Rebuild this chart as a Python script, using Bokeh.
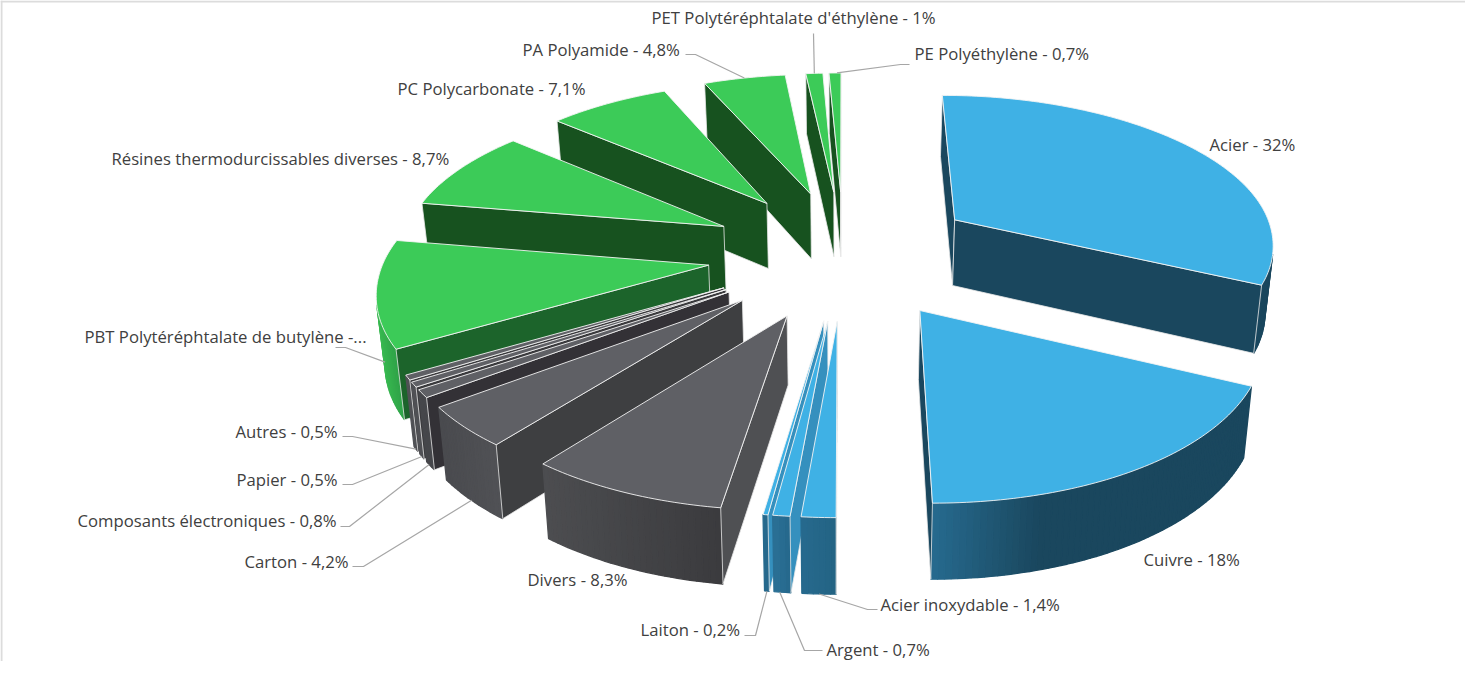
import math
from bokeh.plotting import figure
from bokeh.models import ColumnDataSource
from bokeh.core.properties import value
from bokeh.embed import file_html
from bokeh.resources import INLINE

names = ["Acier", "Cuivre", "Acier inoxydable", "Argent", "Laiton", "Divers", "Carton",
         "Composants électroniques", "Papier", "Autres", "PBT Polytéréphtalate de butylène",
         "Résines thermodurcissables diverses", "PC Polycarbonate", "PA Polyamide",
         "PET Polytéréphtalate d'éthylène", "PE Polyéthylène"]
values = [32, 18, 1.4, 0.7, 0.2, 8.3, 4.2, 0.8, 0.5, 0.5, 11.1, 8.7, 7.1, 4.8, 1, 0.7]
labels = ["Acier - 32%", "Cuivre - 18%", "Acier inoxydable - 1,4%", "Argent - 0,7%", "Laiton - 0,2%",
          "Divers - 8,3%", "Carton - 4,2%", "Composants électroniques - 0,8%", "Papier - 0,5%",
          "Autres - 0,5%", "PBT Polytéréphtalate de butylène -...",
          "Résines thermodurcissables diverses - 8,7%", "PC Polycarbonate - 7,1%", "PA Polyamide - 4,8%",
          "PET Polytéréphtalate d'éthylène - 1%", "PE Polyéthylène - 0,7%"]

# styles: top colour, radial-wall colour, outer wall (left colour, right colour, ramp speed)
BLUE, GREEN, GREY = "#3FB1E5", "#3CCB58", "#5F6065"
top_col = [BLUE]*5 + [GREY]*5 + [GREEN]*6
radial_col = ["#1A475E", "#1A475E", "#1A475E", "#3590BE", "#3590BE",
              "#4F5053", "#3E3F41", "#333136", "#3A3A3D", "#3A3A3D",
              "#1C642B", "#17521F", "#17521F", "#17521F", "#17521F", "#17521F"]
outer_col = [("#1A475E", "#1A475E", 1), ("#26698D", "#1A475E", 3), ("#26698D", "#246484", 1), ("#2A6F94", "#26698D", 1),
             ("#26698D", "#26698D", 1), ("#4C4D50", "#3B3B3E", 1), ("#4A4B4F", "#505155", 1), ("#46474B", "#46474B", 1),
             ("#505155", "#505155", 1), ("#505155", "#505155", 1), ("#38B850", "#2FA348", 1),
             ("#17521F", "#17521F", 1), ("#17521F", "#17521F", 1), ("#17521F", "#17521F", 1), ("#17521F", "#17521F", 1), ("#17521F", "#17521F", 1)]

# camera
CX, CY, YV, K, KX, F, E, RY_BACK, RY_FRONT, H, T = 851.0, 261.0, -1000.0, 0.122, 0.135, 323.0, 0.42, 0.95, 1.0, 67.0, 0.019


def proj(X, Y, z=0.0):
    w = 1 + K * Y
    sx = F * X / (1 + KX * Y)
    sy = YV + (CY - YV) / w + H * z / w ** 0.7
    return CX + sx * (1 - T * z), sy


def lerp_hex(a, b, t):
    ca = [int(a[i:i+2], 16) for i in (1, 3, 5)]
    cb = [int(b[i:i+2], 16) for i in (1, 3, 5)]
    return "#%02x%02x%02x" % tuple(round(x + (y - x) * t) for x, y in zip(ca, cb))


def area(pts):
    return sum(pts[i][0]*pts[(i+1) % len(pts)][1] - pts[(i+1) % len(pts)][0]*pts[i][1] for i in range(len(pts))) / 2


total = sum(values)
slices = []
cum = 0.0
for i, v in enumerate(values):
    a0 = cum / total * 2 * math.pi
    cum += v
    a1 = cum / total * 2 * math.pi
    mid = (a0 + a1) / 2
    ox, oy = E * math.sin(mid), E * math.cos(mid)
    n = max(2, int(math.degrees(a1 - a0) / 1.0) + 1)
    angs = [a0 + (a1 - a0) * j / n for j in range(n + 1)]
    rim = [(ox + math.sin(t), oy + (RY_BACK if math.cos(t) > 0 else RY_FRONT) * math.cos(t)) for t in angs]
    slices.append(dict(i=i, mid=mid, apex=(ox, oy), rim=rim, depth=math.cos(mid)))

xs, ys, fills, lines, widths = [], [], [], [], []


def add(poly, fill, line, width):
    xs.append([q[0] for q in poly])
    ys.append([q[1] for q in poly])
    fills.append(fill)
    lines.append(line)
    widths.append(width)


for s in sorted(slices, key=lambda d: -d["depth"]):
    i = s["i"]
    ring = [s["apex"]] + s["rim"]
    top = [proj(*q) for q in ring]
    sign = 1 if area(top) > 0 else -1
    # outer wall, shaded segment by segment
    segs = []
    for A, B in zip(s["rim"][:-1], s["rim"][1:]):
        quad = [proj(*A), proj(*B), proj(*B, 1), proj(*A, 1)]
        if area(quad) * sign < 0:
            segs.append(quad)
    if segs:
        x0 = min(q[0][0] for q in segs)
        x1 = max(q[0][0] for q in segs)
        for quad in segs:
            t = 0 if x1 == x0 else (quad[0][0] - x0) / (x1 - x0)
            t = min(1.0, t * outer_col[i][2])
            c = lerp_hex(outer_col[i][0], outer_col[i][1], t)
            add(quad, c, c, 1.3)
    # radial walls
    for A, B in ((s["apex"], s["rim"][0]), (s["rim"][-1], s["apex"])):
        quad = [proj(*A), proj(*B), proj(*B, 1), proj(*A, 1)]
        if area(quad) * sign < 0:
            add(quad, radial_col[i], "#E8E8E8", 0.8)
    add(top, top_col[i], "#F4F4F4", 0.9)

p = figure(width=1465, height=661, x_range=(8, 1473), y_range=(669, 8), toolbar_location=None,
           output_backend="svg", x_axis_location=None, y_axis_location=None, min_border=0,
           outline_line_color=None, background_fill_color="white", border_fill_color="white")
p.grid.visible = False

# chart frame
p.segment(x0=[8, 9], y0=[9, 8], x1=[1473, 9], y1=[9, 669], line_color="#DCDCDC", line_width=2)

p.patches("xs", "ys", source=ColumnDataSource(dict(xs=xs, ys=ys, fc=fills, lc=lines, lw=widths)),
          fill_color="fc", line_color="lc", line_width="lw")

# label layout (left x, centre y)
label_pos = [(1217, 152), (1151, 567), (888, 612), (834, 657), (648, 637), (535, 587), (252, 569), (85, 528),
             (244, 487), (243, 439), (92, 344), (119, 166), (405, 96), (530, 57), (659, 25), (922, 61)]
p.text(x=[q[0] for q in label_pos], y=[q[1] for q in label_pos], text=labels, text_font=value("Open Sans"),
       text_font_size="16.7px", text_color="#404040", text_align="left", text_baseline="middle")

# leader lines: slice index, polyline start, elbow; the end is on the slice's own rim
leaders = {2: [(885, 617), (875, 617)], 3: [(830, 658), (812, 658)], 4: [(752, 643), (763, 643)],
           6: [(360, 574), (371, 574)], 7: [(348, 534), (357, 534)], 8: [(350, 492), (360, 492)],
           9: [(350, 444), (360, 444)], 10: [(343, 355), (353, 355)], 13: [(693, 62), (703, 62)],
           14: [(821, 41)], 15: [(917, 72), (908, 72)]}
leader_z = {2: 1, 3: 1, 4: 1, 6: 1, 7: 1, 8: 1, 9: 1, 10: 1, 13: 0, 14: 0, 15: 0}
lx, ly = [], []
for i, pts in leaders.items():
    rim = slices[i]["rim"]
    end = proj(*rim[len(rim) // 2], leader_z[i])
    path = pts + [end]
    lx.append([q[0] for q in path])
    ly.append([q[1] for q in path])
p.multi_line(lx, ly, line_color="#A6A6A6", line_width=1.2)

open("out.html", "w").write(file_html(p, INLINE))
